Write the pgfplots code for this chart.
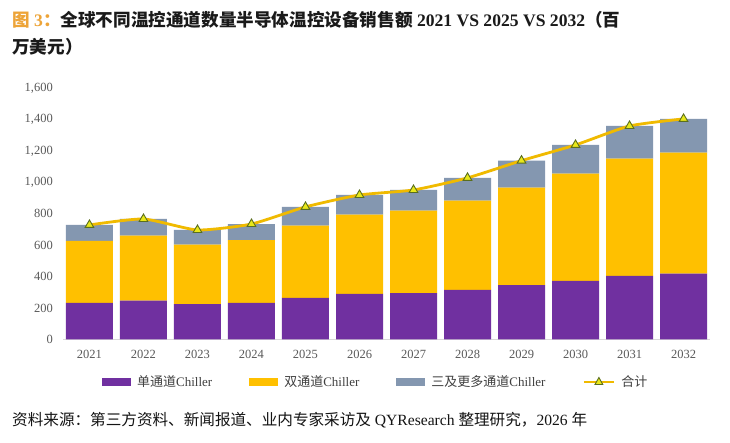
\documentclass[border=0pt]{standalone}
\usepackage{fontspec}
\setmainfont{Liberation Serif}
\newfontfamily\cjk{Noto Sans CJK SC}
\usepackage{pgfplots}
\pgfplotsset{compat=1.18}
\definecolor{cpurple}{HTML}{7030A0}
\definecolor{cyellow}{HTML}{FFC000}
\definecolor{cgray}{HTML}{8497B0}
\definecolor{cline}{HTML}{F0BA00}
\definecolor{cmark}{HTML}{E8E81A}
\definecolor{cmarkedge}{HTML}{5A6E1E}
\definecolor{tickgray}{HTML}{595959}
\definecolor{legendgray}{HTML}{404040}
\definecolor{titleorange}{HTML}{EDA438}
\definecolor{axgray}{HTML}{D9D9D9}
\begin{document}
\begin{tikzpicture}
\path[use as bounding box, fill=white] (0,0) rectangle (730pt,-442pt);
\node[anchor=base west, inner sep=0pt, font=\bfseries\fontsize{17.6}{20}\selectfont, text={rgb,255:red,26;green,26;blue,26}] at (12pt,-26pt)
 {\textcolor{titleorange}{{\cjk 图} 3{\cjk ：}}{\cjk 全球不同温控通道数量半导体温控设备销售额} 2021 VS 2025 VS 2032{\cjk （百}};
\node[anchor=base west, inner sep=0pt, font=\bfseries\fontsize{17.6}{20}\selectfont, text={rgb,255:red,26;green,26;blue,26}] at (12pt,-53pt)
 {\cjk 万美元）};
\node[anchor=base west, inner sep=0pt, font=\fontsize{15.6}{18}\selectfont, text={rgb,255:red,20;green,20;blue,20}] at (12pt,-425pt)
 {{\cjk 资料来源：第三方资料、新闻报道、业内专家采访及} QYResearch {\cjk 整理研究，}2026 {\cjk 年}};
\begin{axis}[
  at={(63pt,-339.3pt)}, anchor=south west,
  scale only axis, width=647pt, height=251pt,
  ybar stacked, bar width=47pt,
  xmin=-0.49, xmax=11.49, ymin=0, ymax=1600,
  xtick={0,...,11},
  xticklabels={2021,2022,2023,2024,2025,2026,2027,2028,2029,2030,2031,2032},
  ytick={0,200,...,1600},
  axis x line*=bottom, axis y line*=left,
  x axis line style={draw=axgray, line width=1pt, -},
  y axis line style={draw=none},
  major tick length=0pt,
  tick label style={font=\fontsize{12.5}{14}\selectfont, text=tickgray},
  yticklabel style={anchor=east, inner sep=0pt, xshift=-10pt, /pgf/number format/.cd, 1000 sep={,}, assume math mode=true},
  xticklabel style={anchor=north, inner sep=0pt, yshift=-11pt},
  legend style={at={(axis description cs:0.0556,-0.170)}, anchor=west, draw=none, fill=none,
    legend columns=4, font=\fontsize{13}{15}\selectfont, text=legendgray,
    nodes={inner sep=0pt},
    /tikz/every odd column/.append style={column sep=6pt},
    /tikz/every even column/.append style={column sep=37pt}},
  legend cell align=left,
]
\addplot[fill=cpurple, draw=none, legend image code/.code={\fill[cpurple] (0pt,-4pt) rectangle (29pt,4pt);}]
 coordinates {(0,232) (1,246) (2,225) (3,232) (4,264) (5,289) (6,295) (7,315) (8,346) (9,372) (10,404) (11,419)};
\addlegendentry{{\cjk 单通道}Chiller}
\addplot[fill=cyellow, draw=none, legend image code/.code={\fill[cyellow] (0pt,-4pt) rectangle (29pt,4pt);}]
 coordinates {(0,395) (1,415) (2,378) (3,401) (4,461) (5,506) (6,525) (7,569) (8,621) (9,684) (10,748) (11,771)};
\addlegendentry{{\cjk 双通道}Chiller}
\addplot[fill=cgray, draw=none, legend image code/.code={\fill[cgray] (0pt,-4pt) rectangle (29pt,4pt);}]
 coordinates {(0,102) (1,106) (2,94) (3,102) (4,119) (5,125) (6,132) (7,145) (8,172) (9,183) (10,208) (11,215)};
\addlegendentry{{\cjk 三及更多通道}Chiller}
\addlegendimage{legend image code/.code={
  \draw[cline, line width=2.8pt] (0pt,0pt) -- (30pt,0pt);
  \fill[cmark, draw=cmarkedge, line width=0.9pt] (15pt,4.5pt) -- (18.9pt,-2.5pt) -- (11.1pt,-2.5pt) -- cycle;}}
\addlegendentry{{\cjk 合计}}
\end{axis}
\begin{axis}[
  at={(63pt,-339.3pt)}, anchor=south west,
  scale only axis, width=647pt, height=251pt,
  xmin=-0.49, xmax=11.49, ymin=0, ymax=1600,
  hide axis, clip=false,
]
\addplot[cline, line width=2.8pt, smooth, tension=0.35, mark=triangle*, mark size=5pt,
  mark options={fill=cmark, draw=cmarkedge, line width=0.9pt, solid}]
 coordinates {(0,729) (1,767) (2,697) (3,735) (4,844) (5,920) (6,952) (7,1029) (8,1139) (9,1239) (10,1360) (11,1405)};
\end{axis}
\end{tikzpicture}
\end{document}
